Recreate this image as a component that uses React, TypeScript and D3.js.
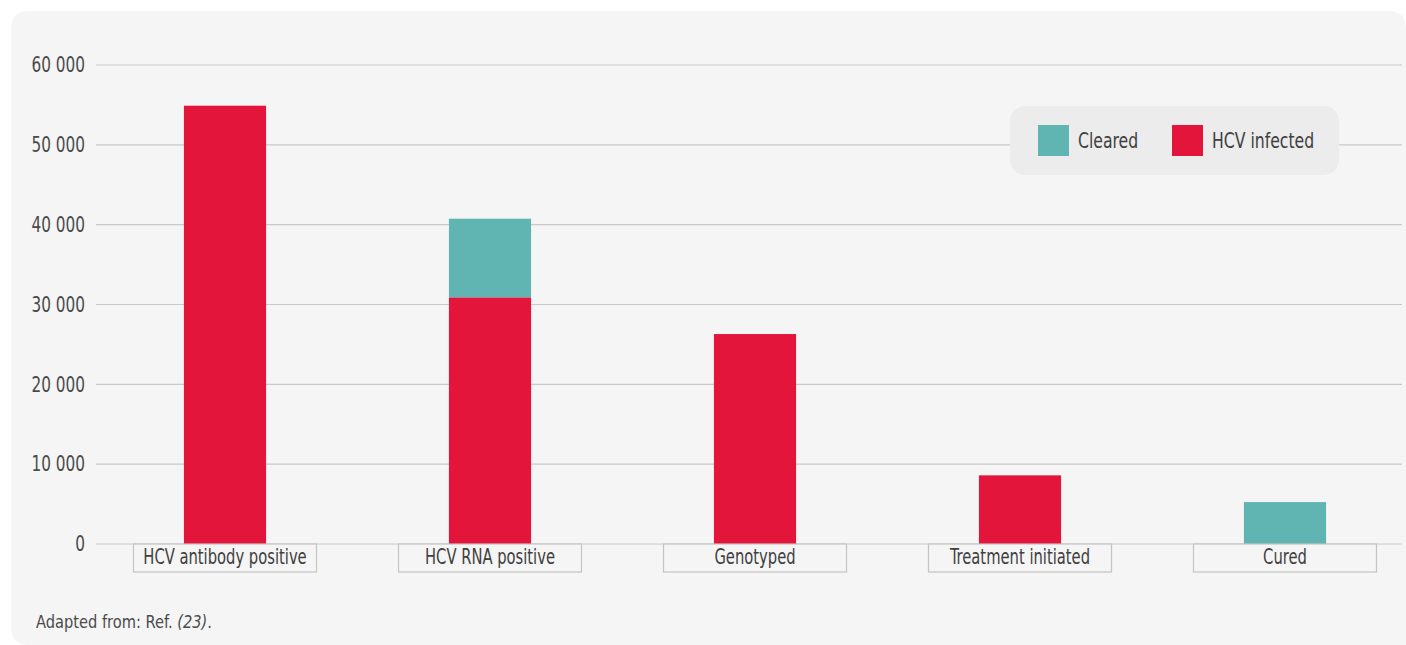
import React from "react";
import * as d3 from "d3";

const categories = ["HCV antibody positive", "HCV RNA positive", "Genotyped", "Treatment initiated", "Cured"];
const infected = [54900, 30900, 26300, 8600, 0];
const cleared = [0, 9850, 0, 0, 5250];
const yTicks = [0, 10000, 20000, 30000, 40000, 50000, 60000];
const seriesNames = ["Cleared", "HCV infected"];

const RED = "#e4153b";
const TEAL = "#60b5b3";
const FONT = "'Liberation Sans Narrow', 'DejaVu Sans Condensed', 'Roboto', sans-serif";

function SText({ x, y, sx, anchor, size, fill, children, dy }: any) {
  return (
    <g transform={`translate(${x},${y}) scale(${sx},1)`}>
      <text x={0} y={0} dy={dy} textAnchor={anchor} fontSize={size} fill={fill}>
        {children}
      </text>
    </g>
  );
}

export default function App() {
  const W = 1406, H = 645;
  const y = d3.scaleLinear().domain([0, 60000]).range([544, 65]);
  const x = d3.scaleBand<string>().domain(categories).range([92.5, 1417.5]).paddingInner(0.69).paddingOuter(0.345);
  const fmt = (v: number) => d3.format(",")(v).replace(/,/g, " ");

  const stacked = d3.stack<any>().keys(["infected", "cleared"])(
    categories.map((c, i) => ({ cat: c, infected: infected[i], cleared: cleared[i] }))
  );

  return (
    <svg width={W} height={H} style={{ position: "absolute", left: 0, top: 0, fontFamily: FONT }}>
      <rect x={0} y={0} width={W} height={H} fill="#ffffff" />
      <path
        d={`M11,${11 + 18} Q11,11 ${11 + 18},11 L${1406 - 18},11 Q1406,11 1406,${11 + 18} L1406,645 L${11 + 18},645 Q11,645 11,${645 - 18} Z`}
        fill="#f5f5f5"
      />
      {yTicks.map((t) => (
        <g key={t}>
          <line x1={96} x2={1402} y1={y(t)} y2={y(t)} stroke="#c9c9c9" strokeWidth={1.2} />
          <SText x={85} y={y(t)} sx={0.83} dy="0.35em" anchor="end" size={20.5} fill="#4a4a4a">
            {fmt(t)}
          </SText>
        </g>
      ))}
      {stacked.map((s) => (
        <g key={s.key} fill={s.key === "infected" ? RED : TEAL}>
          {s.map((d, i) =>
            d[1] - d[0] > 0 ? (
              <rect
                key={i}
                x={x(categories[i])!}
                width={x.bandwidth()}
                y={y(d[1])}
                height={y(d[0]) - y(d[1])}
              />
            ) : null
          )}
        </g>
      ))}
      {categories.map((c) => {
        const cx = x(c)! + x.bandwidth() / 2;
        return (
          <g key={c}>
            <rect x={cx - 91.5} y={544} width={183} height={28} fill="#f5f5f5" stroke="#c4c4c4" strokeWidth={1.2} />
            <SText x={cx} y={563.5} sx={0.8} anchor="middle" size={20.5} fill="#404040">
              {c}
            </SText>
          </g>
        );
      })}
      <g>
        <rect x={1010} y={106} width={329} height={69} rx={15} fill="#ececec" />
        <rect x={1038} y={125} width={31} height={31} fill={TEAL} />
        <SText x={1078} y={140.5} sx={0.83} dy="0.35em" anchor="start" size={21} fill="#404040">
          {seriesNames[0]}
        </SText>
        <rect x={1172} y={125} width={31} height={31} fill={RED} />
        <SText x={1212} y={140.5} sx={0.83} dy="0.35em" anchor="start" size={21} fill="#404040">
          {seriesNames[1]}
        </SText>
      </g>
      <SText x={36} y={628} sx={0.88} anchor="start" size={18.5} fill="#4a4a4a">
        Adapted from: Ref. <tspan fontStyle="italic">(23)</tspan>.
      </SText>
    </svg>
  );
}
